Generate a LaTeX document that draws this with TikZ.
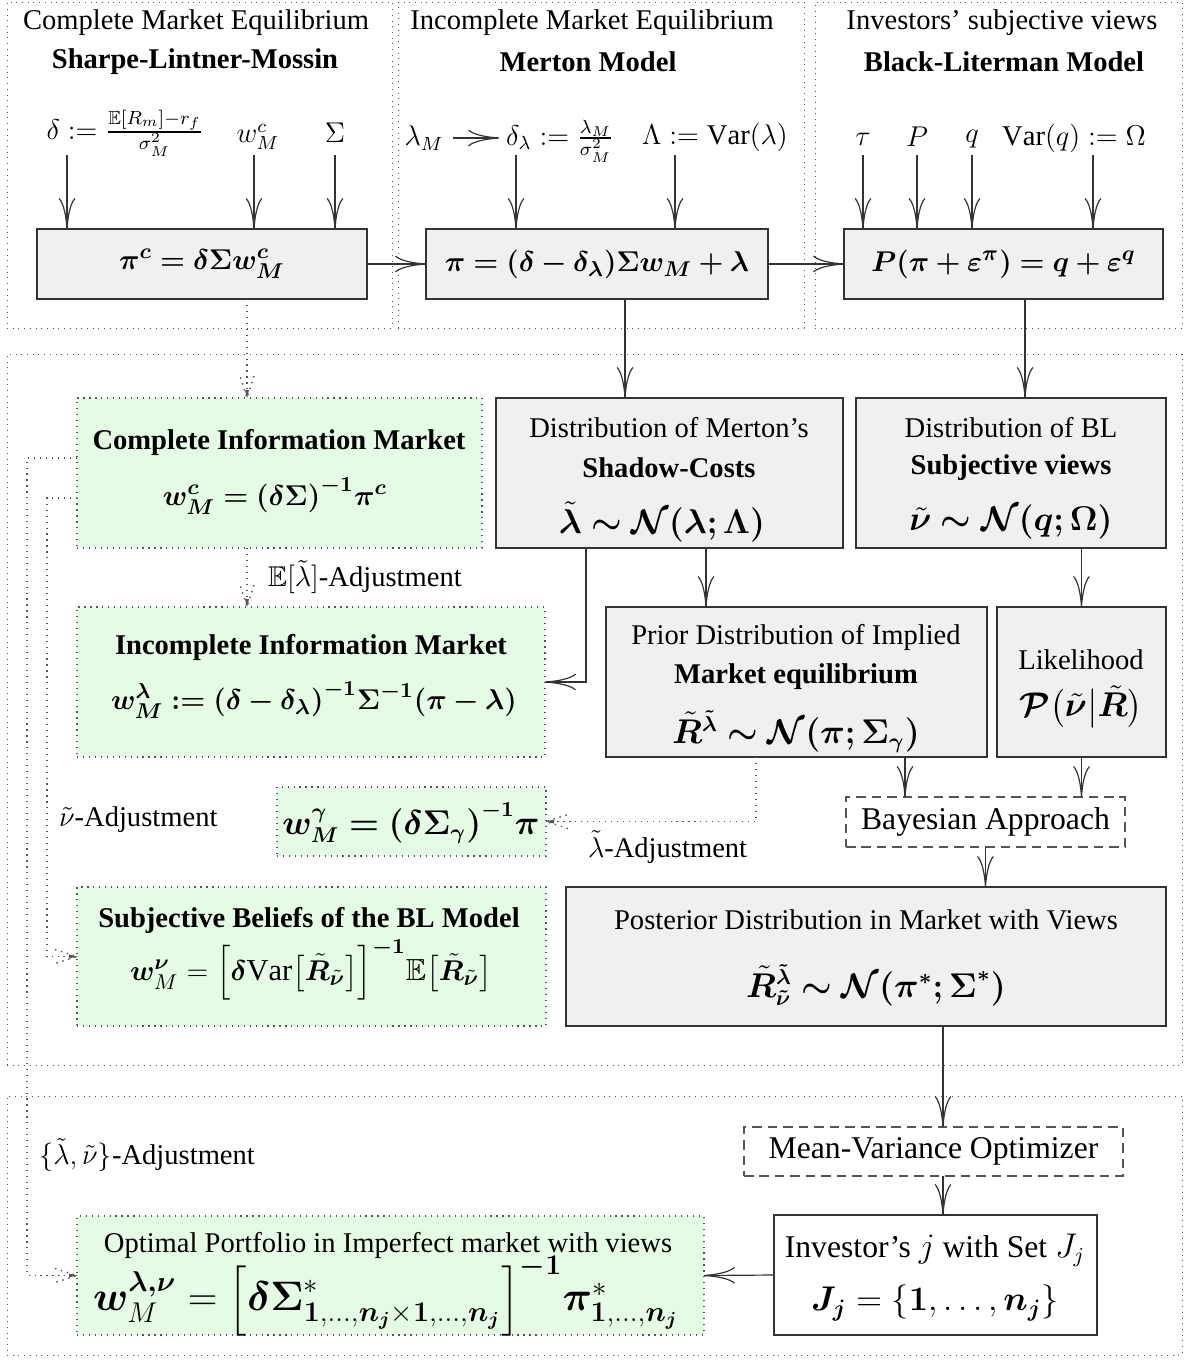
\documentclass[tikz,border=0pt]{standalone}
\usepackage{amsmath,amssymb}
\usepackage{bm}
\usepackage{fontspec}
\setmainfont{Liberation Serif}
\usetikzlibrary{arrows.meta,fit,calc}
\definecolor{gfill}{HTML}{E6FBE6}
\definecolor{bfill}{HTML}{F0F0F0}
\definecolor{ln}{HTML}{333333}
\definecolor{dl}{HTML}{555555}
\newcommand\szA{\fontsize{12}{14.4}\selectfont}
\newcommand\szB{\fontsize{12.8}{15.4}\selectfont}
\newcommand\szF{\fontsize{13.4}{16}\selectfont}
\newcommand\szE{\fontsize{14.4}{17.3}\selectfont}
\newcommand\szC{\fontsize{16.4}{20}\selectfont}
\newcommand\szD{\fontsize{13.3}{16}\selectfont}
\newcommand\idx{\bm{1},\ldots,\bm{n_j}}
\begin{document}
\begin{tikzpicture}[x=0.42pt,y=-0.42pt,
  every node/.style={inner sep=0pt,outer sep=0pt},
  rm/.style={font=\szA},
  bf/.style={font=\szA\bfseries},
  fm/.style={font=\szB},
  ff/.style={font=\szF},
  fe/.style={font=\szE},
  fz/.style={font=\szD},
  fl/.style={font=\szC},
  panel/.style={draw=dl,dotted,line width=0.4pt},
  gbx/.style={draw=ln,fill=bfill,line width=0.6pt},
  grn/.style={draw=dl,dotted,fill=gfill,line width=0.5pt},
  dsh/.style={draw=dl,dash pattern=on 4pt off 2.5pt,fill=white,line width=0.6pt},
  wbx/.style={draw=ln,fill=white,line width=0.6pt},
  arr/.style={draw=ln,line width=0.5pt,-{Computer Modern Rightarrow[length=13pt,width=7pt]}},
  dar/.style={draw=dl,dotted,line width=0.5pt},
  dtip/.pic={\draw[dl,dotted,line width=0.6pt] (-22,-7) -- (0,0) -- (-22,7);
             \fill[dl] (0,0) -- (-8,-2) -- (-8,2) -- cycle;}
]
\useasboundingbox (0,0) rectangle (1188,1365);

% regions
\node[panel,fit={(7,2) (392,328)}] (p1) {};
\node[panel,fit={(398,2) (804,328)}] (p2) {};
\node[panel,fit={(815,2) (1182,328)}] (p3) {};
\node[panel,fit={(7,354) (1182,1065)}] (pm) {};
\node[panel,fit={(7,1096) (1182,1355)}] (pb) {};

% titles
\node[rm] (t1a) at (196,23) {Complete Market Equilibrium};
\node[bf] (t1b) at (195,62) {Sharpe-Lintner-Mossin};
\node[rm] (t2a) at (592,23) {Incomplete Market Equilibrium};
\node[bf] (t2b) at (588,62) {Merton Model};
\node[rm] (t3a) at (1002,23) {Investors' subjective views};
\node[bf] (t3b) at (1004,62) {Black-Literman Model};

% inputs
\node[rm] (i11) at (125,133) {$\delta := \frac{\mathbb{E}[R_m]-r_f}{\sigma_M^2}$};
\node[rm] (i12) at (258,137) {$w^c_M$};
\node[rm] (i13) at (335,133) {$\Sigma$};
\node[rm] (i21) at (424,138) {$\lambda_M$};
\node[rm] (i22) at (560,141) {$\delta_\lambda := \frac{\lambda_M}{\sigma_M^2}$};
\node[rm] (i23) at (715,137) {$\Lambda := \mathrm{Var}(\lambda)$};
\node[rm] (i31) at (863,139) {$\tau$};
\node[rm] (i32) at (917,137) {$P$};
\node[rm] (i33) at (972,139) {$q$};
\node[rm] (i34) at (1074,138) {$\mathrm{Var}(q) := \Omega$};

% top boxes
\node[gbx,fit={(37,229) (367,299)}] (b1) {};
\node[fm] (b1t) at (b1.center) {$\bm{\pi^c = \delta\Sigma w^c_M}$};
\node[gbx,fit={(426,229) (768,299)}] (b2) {};
\node[fm] (b2t) at (b2.center) {$\bm{\pi = (\delta-\delta_\lambda)\Sigma w_M+\lambda}$};
\node[gbx,fit={(844,229) (1163,299)}] (b3) {};
\node[fm] (b3t) at (b3.center) {$\bm{P(\pi+\varepsilon^\pi) = q+\varepsilon^q}$};

% middle
\node[grn,fit={(77,398) (482,548)}] (cim) {};
\node[bf] (cim1) at (279,442) {Complete Information Market};
\node[fm] (cim2) at (275,496) {$\bm{w^c_M = (\delta\Sigma)^{-1}\pi^c}$};

\node[grn,fit={(77,607) (545,757)}] (iim) {};
\node[bf] (iim1) at (311,647) {Incomplete Information Market};
\node[fm] (iim2) at (314,700) {$\bm{w^\lambda_M := (\delta-\delta_\lambda)^{-1}\Sigma^{-1}(\pi-\lambda)}$};

\node[gbx,fit={(496,398) (843,548)}] (md) {};
\node[rm] (md1) at (669,428) {Distribution of Merton's};
\node[bf] (md2) at (669,468) {Shadow-Costs};
\node[ff] (md3) at (662,522) {$\bm{\tilde\lambda \sim \mathcal{N}(\lambda;\Lambda)}$};

\node[gbx,fit={(856,398) (1166,548)}] (bd) {};
\node[rm] (bd1) at (1011,428) {Distribution of BL};
\node[bf] (bd2) at (1011,468) {Subjective views};
\node[ff] (bd3) at (1011,522) {$\bm{\tilde\nu \sim \mathcal{N}(q;\Omega)}$};

\node[gbx,fit={(606,607) (987,757)}] (pr) {};
\node[rm] (pr1) at (796,637) {Prior Distribution of Implied};
\node[bf] (pr2) at (796,677) {Market equilibrium};
\node[ff] (pr3) at (796,732) {$\bm{\tilde R^{\tilde\lambda} \sim \mathcal{N}(\pi;\Sigma_\gamma)}$};

\node[gbx,fit={(997,607) (1166,757)}] (lk) {};
\node[rm] (lk1) at (1081,660) {Likelihood};
\node[ff] (lk2) at (1081,707) {$\bm{\mathcal{P}}\big(\tilde{\bm\nu}\big|\tilde{\bm R}\big)$};

\node[grn,fit={(277,787) (546,856)}] (wg) {};
\node[ff] (wgt) at (411,823) {$\bm{w^\gamma_M = (\delta\Sigma_\gamma)^{-1}\pi}$};

\node[dsh,fit={(846,797) (1125,847)}] (bay) {};
\node[fz] (bayt) at (bay.center) {Bayesian Approach};

\node[gbx,fit={(566,887) (1166,1026)}] (po) {};
\node[rm] (po1) at (866,920) {Posterior Distribution in Market with Views};
\node[ff] (po2) at (876,985) {$\bm{\tilde R^{\tilde\lambda}_{\tilde\nu} \sim \mathcal{N}(\pi^*;\Sigma^*)}$};

\node[grn,fit={(77,887) (546,1026)}] (sb) {};
\node[bf] (sb1) at (309,920) {Subjective Beliefs of the BL Model};
\node[fm] (sb2) at (311,970) {$\bm{w}^{\bm\nu}_M = \Big[\bm\delta\mathrm{Var}\big[\tilde{\bm R}_{\tilde{\bm\nu}}\big]\Big]^{\bm{-1}}\mathbb{E}\big[\tilde{\bm R}_{\tilde{\bm\nu}}\big]$};

% bottom
\node[dsh,fit={(744,1127) (1123,1176)}] (mvo) {};
\node[fz] (mvot) at (mvo.center) {Mean-Variance Optimizer};
\node[wbx,fit={(774,1215) (1097,1335)}] (inv) {};
\node[fz] (inv1) at (935,1250) {Investor's $j$ with Set $J_j$};
\node[fe] (inv2) at (935,1303) {$\bm{J_j} = \{\idx\}$};

\node[grn,fit={(77,1216) (704,1335)}] (op) {};
\node[rm] (op1) at (388,1245) {Optimal Portfolio in Imperfect market with views};
\node[fl] (op2) at (386,1297) {$\bm{w}^{\bm{\lambda,\nu}}_M = \Big[\bm\delta\bm\Sigma^*_{\idx\times\idx}\Big]^{\bm{-1}}\bm\pi^*_{\idx}$};

% labels
\node[rm,anchor=west] (la1) at (268,577) {$\mathbb{E}[\tilde\lambda]$-Adjustment};
\node[rm,anchor=west] (la2) at (59,820) {$\tilde\nu$-Adjustment};
\node[rm,anchor=west] (la3) at (588,847) {$\tilde\lambda$-Adjustment};
\node[rm,anchor=west] (la4) at (39,1155) {$\{\tilde\lambda,\tilde\nu\}$-Adjustment};

% coordinates
\coordinate (s11) at (67,155);
\coordinate (s12) at (254,155);
\coordinate (s13) at (335,155);
\coordinate (s21) at (516,155);
\coordinate (s22) at (675,155);
\coordinate (s31) at (863,155);
\coordinate (s32) at (917,155);
\coordinate (s33) at (972,155);
\coordinate (s34) at (1093,155);
\coordinate (xa) at (247,0);
\coordinate (xb) at (625,0);
\coordinate (xc) at (1025,0);
\coordinate (xd) at (586,0);
\coordinate (xe) at (706,0);
\coordinate (xf) at (905,0);
\coordinate (xg) at (756,0);
\coordinate (xh) at (943,0);
\coordinate (lx) at (27,1275);
\coordinate (nx) at (47,957);

% solid arrows
\draw[arr] (s11) -- (s11 |- b1.north);
\draw[arr] (s12) -- (s12 |- b1.north);
\draw[arr] (s13) -- (s13 |- b1.north);
\draw[arr] (s21) -- (s21 |- b2.north);
\draw[arr] (s22) -- (s22 |- b2.north);
\draw[arr] (s31) -- (s31 |- b3.north);
\draw[arr] (s32) -- (s32 |- b3.north);
\draw[arr] (s33) -- (s33 |- b3.north);
\draw[arr] (s34) -- (s34 |- b3.north);
\draw[arr,shorten <=4pt,shorten >=3pt] (i21.east) -- (i21.east -| i22.west);
\draw[arr] (b1) -- (b2);
\draw[arr] (b2) -- (b3);
\draw[arr] (b2.south -| xb) -- (md.north -| xb);
\draw[arr] (b3.south -| xc) -- (bd.north -| xc);
\draw[arr] (md.south -| xd) |- (iim.east);
\draw[arr] (md.south -| xe) -- (pr.north -| xe);
\draw[arr] (bd.south -| lk.north) -- (lk.north);
\draw[arr] (pr.south -| xf) -- (bay.north -| xf);
\draw[arr] (lk.south) -- (lk.south |- bay.north);
\draw[arr] (bay.south) -- (bay.south |- po.north);
\draw[arr] (po.south -| xh) -- (mvo.north -| xh);
\draw[arr] (mvo.south -| xh) -- (inv.north -| xh);
\draw[arr] (inv.west) -- (op.east);

% dotted connectors
\draw[dar] (b1.south -| xa) -- (cim.north -| xa);
\pic[rotate=-90] at (cim.north -| xa) {dtip};
\draw[dar] (cim.south -| xa) -- (iim.north -| xa);
\pic[rotate=-90] at (iim.north -| xa) {dtip};
\draw[dar] ($(cim.north west)+(0,60)$) -| (lx) |- (op.west);
\pic at (op.west) {dtip};
\draw[dar] ($(cim.north west)+(0,100)$) -| (nx) |- (sb.west);
\pic at (sb.west) {dtip};
\draw[dar] (pr.south -| xg) |- (wg.east);
\pic[rotate=180] at (wg.east) {dtip};
\end{tikzpicture}
\end{document}
